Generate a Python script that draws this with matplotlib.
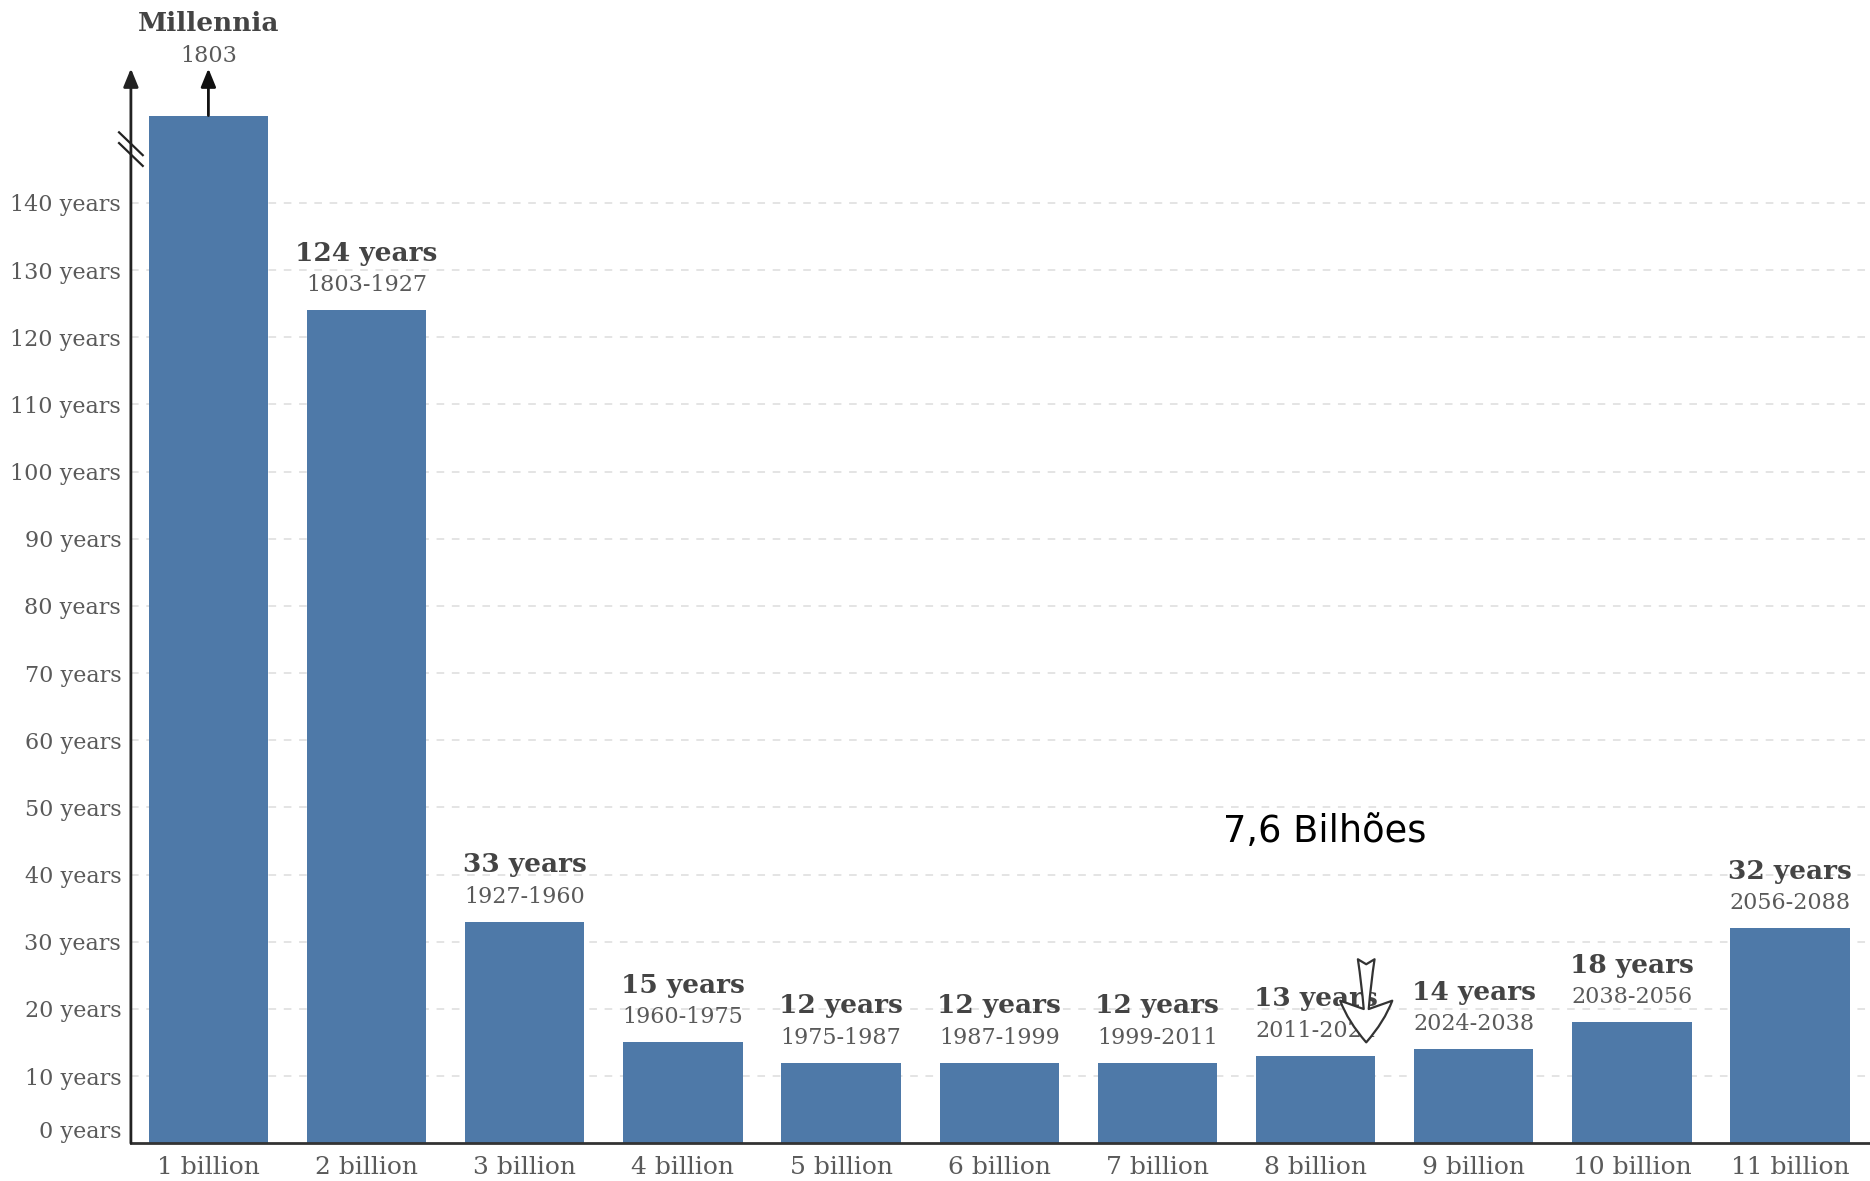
import matplotlib
matplotlib.use("Agg")
import matplotlib.pyplot as plt
import numpy as np
from matplotlib.patches import FancyArrowPatch

# data
categories = ["1 billion", "2 billion", "3 billion", "4 billion", "5 billion", "6 billion",
              "7 billion", "8 billion", "9 billion", "10 billion", "11 billion"]
bar_years = [153, 124, 33, 15, 12, 12, 12, 13, 14, 18, 32]   # first bar is cut (axis break)
top_labels = ["Millennia", "124 years", "33 years", "15 years", "12 years", "12 years",
              "12 years", "13 years", "14 years", "18 years", "32 years"]
period_labels = ["1803", "1803-1927", "1927-1960", "1960-1975", "1975-1987", "1987-1999",
                 "1999-2011", "2011-2024", "2024-2038", "2038-2056", "2056-2088"]
ytick_vals = list(range(0, 150, 10))
ytick_labels = [f"{v} years" for v in ytick_vals]

BAR = "#4e79a8"
DARK = "#444444"
GREY = "#5a5a5a"
SERIF = "DejaVu Serif"

fig = plt.figure(figsize=(18.7, 11.81), dpi=100)
ax = fig.add_axes([0.070, 0.032, 0.930, 0.968])

x = np.arange(len(categories))
ax.bar(x, bar_years, width=0.755, color=BAR, zorder=2)

xmin, xmax = -0.49, 10.505
ax.set_xlim(xmin, xmax)
ax.set_ylim(0, 170.2)

ax.set_yticks(ytick_vals)
ax.set_yticklabels(ytick_labels, fontsize=16, color=GREY, family=SERIF)
ax.get_yticklabels()[0].set_va("bottom")
ax.set_xticks(x)
ax.set_xticklabels(categories, fontsize=18, color=GREY, family=SERIF)
ax.tick_params(axis="both", length=0)
ax.tick_params(axis="y", pad=7)
ax.tick_params(axis="x", pad=9)

for v in ytick_vals[1:]:
    ax.axhline(v, color="#dddddd", lw=1.1, ls=(0, (5, 5)), zorder=1)

for s in ["top", "right", "left"]:
    ax.spines[s].set_visible(False)
ax.spines["bottom"].set_color("#333333")
ax.spines["bottom"].set_linewidth(2)

# left axis line with arrow head
ax.annotate("", xy=(xmin, 160), xytext=(xmin, 0), annotation_clip=False,
            arrowprops=dict(arrowstyle="-|>,head_length=1.1,head_width=0.45",
                            color="#222222", lw=2, shrinkA=0, shrinkB=0))
# break marks on the axis
dx, dy = 0.075, 1.7
for off in (-0.8, 0.8):
    ax.plot([xmin - dx, xmin + dx], [148 + off + dy, 148 + off - dy],
            color="#222222", lw=1.6, zorder=5, clip_on=False)

# arrow above first bar
ax.annotate("", xy=(0, 160), xytext=(0, bar_years[0]),
            arrowprops=dict(arrowstyle="-|>,head_length=1.1,head_width=0.45",
                            color="#111111", lw=2, shrinkA=0, shrinkB=0))

# bar labels
for i, (h, t, p) in enumerate(zip(bar_years, top_labels, period_labels)):
    if i == 0:
        b_off, s_off = 66, 43
    else:
        b_off, s_off = 41, 18
    ax.annotate(t, xy=(i, h), xytext=(0, b_off), textcoords="offset points",
                ha="center", va="center", fontsize=19, fontweight="bold",
                color=DARK, family=SERIF)
    ax.annotate(p, xy=(i, h), xytext=(0, s_off), textcoords="offset points",
                ha="center", va="center", fontsize=16, color=GREY, family=SERIF)

# current population marker
ax.text(7.06, 46.4, "7,6 Bilhões", fontsize=26.5, ha="center", va="center",
        color="black", family="DejaVu Sans")
arr = FancyArrowPatch((7.32, 27.8), (7.32, 14.6),
                      arrowstyle="fancy,head_length=1.0,head_width=1.25,tail_width=0.4",
                      mutation_scale=30, fc="white", ec="#333333", lw=1.6, zorder=6)
ax.add_patch(arr)

fig.savefig("out.png", dpi=100, facecolor="white")
